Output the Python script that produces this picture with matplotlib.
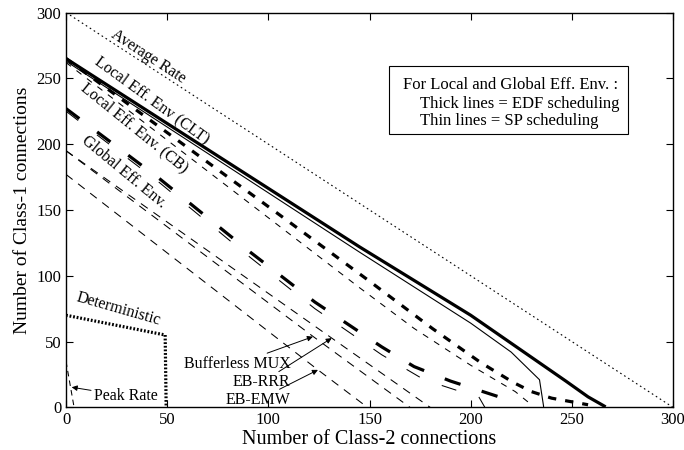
import matplotlib
matplotlib.use("Agg")
import matplotlib.pyplot as plt
from matplotlib.patches import Rectangle

plt.rcParams['font.family'] = ['Liberation Serif', 'DejaVu Serif']
plt.rcParams['lines.scale_dashes'] = False

# Admissible-region boundaries: (Class-2 count, Class-1 count)
avg_x = [0, 300]
avg_y = [300, 0]

clt_edf_x = [0, 145, 200, 247, 258, 266]
clt_edf_y = [265, 122, 70, 20, 8, 1]
clt_sp_x = [0, 145, 200, 220, 234, 236, 236]
clt_sp_y = [263, 118, 64, 42, 21, 1, 0]

cb_edf_x = [0, 104, 149, 181, 205, 221, 230, 240, 249, 258]
cb_edf_y = [265, 148, 97, 60, 34, 19, 12, 7, 4.5, 2]
cb_sp_x = [0, 145, 172, 200, 222, 230]
cb_sp_y = [262, 91, 60, 32, 12, 2]

glob_edf_x = [0, 46, 91, 123, 156, 172, 190, 208, 220]
glob_edf_y = [227, 174, 118, 80, 46, 31, 20, 11, 5]
glob_sp_x = [0, 46, 91, 123, 156, 177, 195, 204, 207]
glob_sp_y = [225, 171, 114, 75, 40, 21, 12, 8, 0]

bufmux_x = [0, 122, 170]
bufmux_y = [195, 54, 0]
ebrrr_x = [0, 131, 180]
ebrrr_y = [195, 53, 0]
ebemw_x = [0, 124.5, 149]
ebemw_y = [177, 28.5, 0]

det_x = [0, 49, 49.5]
det_y = [70, 55, 0]
peak_x = [0, 4]
peak_y = [35, 0]

x_ticks = [0, 50, 100, 150, 200, 250, 300]
y_ticks = [0, 50, 100, 150, 200, 250, 300]

box_lines = ['For Local and Global Eff. Env. :',
             'Thick lines = EDF scheduling',
             'Thin lines = SP scheduling']

fig = plt.figure(figsize=(6.84, 4.5), dpi=100)
ax = fig.add_axes([0.0965, 0.0947, 0.8875, 0.8775])

k = 'black'
ax.plot(avg_x, avg_y, color=k, lw=0.8, dashes=(1.2, 2.2))
ax.plot(clt_edf_x, clt_edf_y, color=k, lw=2.3)
ax.plot(clt_sp_x, clt_sp_y, color=k, lw=0.8)
ax.plot(cb_edf_x, cb_edf_y, color=k, lw=2.3, dashes=(6, 6.5))
ax.plot(cb_sp_x, cb_sp_y, color=k, lw=0.75, dashes=(4.5, 5))
ax.plot(glob_edf_x, glob_edf_y, color=k, lw=2.3, dashes=(12, 16))
ax.plot(glob_sp_x, glob_sp_y, color=k, lw=0.75, dashes=(11, 17))
for xs, ys in [(bufmux_x, bufmux_y), (ebrrr_x, ebrrr_y), (ebemw_x, ebemw_y)]:
    ax.plot(xs, ys, color=k, lw=0.75, dashes=(6, 5))
ax.plot(det_x, det_y, color=k, lw=2.3, dashes=(1.3, 1.3))
ax.plot(peak_x, peak_y, color=k, lw=0.75, dashes=(4, 3))

ax.set_xlim(0, 300)
ax.set_ylim(0, 300)
ax.set_xticks(x_ticks)
ax.set_yticks(y_ticks)
ax.tick_params(direction='in', top=True, right=True, length=5, labelsize=12)
for s in ax.spines.values():
    s.set_linewidth(1.0)
ax.set_xlabel('Number of Class-2 connections', fontsize=14.5, labelpad=1)
ax.set_ylabel('Number of Class-1 connections', fontsize=14, labelpad=4)

fs = 11.5
ax.text(40.5, 266.7, 'Average Rate', rotation=-33, fontsize=fs, ha='center', va='center')
ax.text(42.5, 233.5, 'Local Eff. Env (CLT)', rotation=-36, fontsize=fs, ha='center', va='center')
ax.text(34, 212, 'Local Eff. Env. (CB)', rotation=-39, fontsize=fs, ha='center', va='center')
ax.text(28.7, 179, 'Global Eff. Env.', rotation=-39.5, fontsize=fs, ha='center', va='center')
ax.text(26, 75, 'Deterministic', rotation=-16, fontsize=fs, ha='center', va='center')

arrow = dict(arrowstyle='-|>', color=k, lw=0.7, mutation_scale=8, shrinkA=0, shrinkB=0)
ax.annotate('Peak Rate', xy=(2.8, 15.3), xytext=(29.5, 8.7), fontsize=fs,
            ha='center', va='center', arrowprops=arrow)
ax.annotate('Bufferless MUX', xy=(122, 53.7), xytext=(111, 33), fontsize=fs,
            ha='right', va='center', arrowprops=arrow)
ax.annotate('EB-RRR', xy=(131.3, 52.6), xytext=(111, 19), fontsize=fs,
            ha='right', va='center', arrowprops=arrow)
ax.annotate('EB-EMW', xy=(124.5, 28.5), xytext=(111, 5.6), fontsize=fs,
            ha='right', va='center', arrowprops=arrow)

# scheduling key
ax.add_patch(Rectangle((159.7, 208), 118.1, 51, facecolor='white', edgecolor=k, lw=0.8,
                       zorder=5))
ax.text(166.7, 244.6, box_lines[0], fontsize=12, ha='left', va='center', zorder=6)
ax.text(175, 230.7, box_lines[1], fontsize=12, ha='left', va='center', zorder=6)
ax.text(175, 217.4, box_lines[2], fontsize=12, ha='left', va='center', zorder=6)

fig.savefig('out.png', dpi=100)
